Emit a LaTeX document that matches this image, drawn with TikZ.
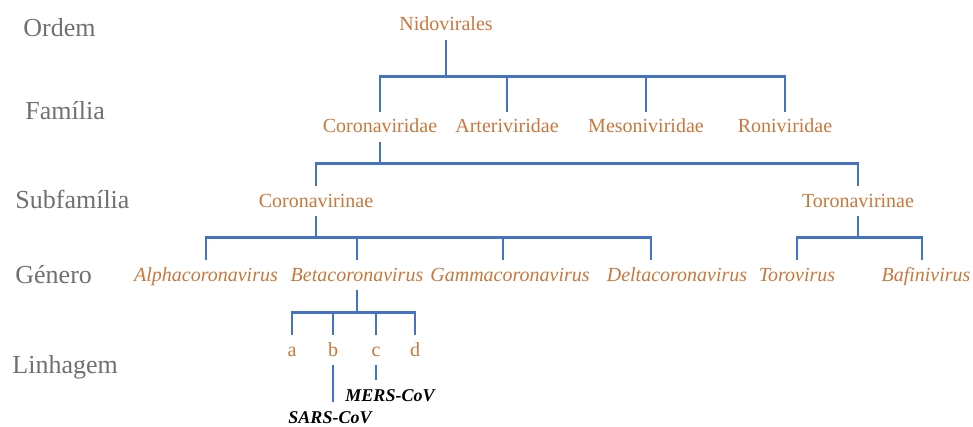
\documentclass[tikz,border=0pt]{standalone}
\usepackage{fontspec}
\setmainfont{Liberation Serif}
\definecolor{taxonorange}{RGB}{200,120,60}
\definecolor{branchblue}{RGB}{68,114,196}
\definecolor{rankgray}{RGB}{112,112,112}

\begin{document}
\begin{tikzpicture}[
		x=0.5pt, y=-0.5pt,
		every node/.style={inner xsep=0pt, inner ysep=3.5pt, text height=7pt, text depth=1pt},
		rank/.style={anchor=west, text=rankgray, text height=9pt, font=\fontsize{13}{15}\selectfont},
		taxon/.style={text=taxonorange, font=\fontsize{10}{12}\selectfont},
		genus/.style={text=taxonorange, font=\fontsize{10}{12}\selectfont\itshape},
		virus/.style={font=\fontsize{9}{11}\selectfont\bfseries\itshape},
		branch/.style={draw=branchblue, line width=1.2pt}
	]
  \useasboundingbox (0,0) rectangle (973,427);
  % ranks
  \node (ordem) [rank] at (23,29) {Ordem};
  \node (familia) [rank] at (25,112) {Família};
  \node (subfamilia) [rank] at (15,200) {Subfamília};
  \node (genero) [rank] at (15,275) {Género};
  \node (linhagem) [rank] at (12,365) {Linhagem};

  % taxa
  \node (nido) [taxon] at (446,25) {Nidovirales};
  \node (corv) [taxon] at (380,127) {Coronaviridae};
  \node (arter) [taxon] at (507,127) {Arteriviridae};
  \node (meso) [taxon] at (646,127) {Mesoniviridae};
  \node (roni) [taxon] at (785,127) {Roniviridae};
  \node (corvin) [taxon] at (316,201) {Coronavirinae};
  \node (torvin) [taxon] at (858,201) {Toronavirinae};
  \node (alpha) [genus] at (206,275) {Alphacoronavirus};
  \node (beta) [genus] at (357,275) {Betacoronavirus};
  \node (gamma) [genus] at (510,275) {Gammacoronavirus};
  \node (delta) [genus] at (677,275) {Deltacoronavirus};
  \node (toro) [genus] at (797,275) {Torovirus};
  \node (bafi) [genus] at (926,275) {Bafinivirus};
  \node (la) [taxon] at (292,350) {a};
  \node (lb) [taxon] at (333,350) {b};
  \node (lc) [taxon] at (376,350) {c};
  \node (ld) [taxon] at (415,350) {d};
  \node (sars) [virus] at (330,417) {SARS-CoV};
  \node (mers) [virus] at (390,395) {MERS-CoV};

  % branches
  \draw[branch] (nido.south) -- ++(0,36) -| (corv.north);
  \draw[branch] (nido.south) -- ++(0,36) -| (arter.north);
  \draw[branch] (nido.south) -- ++(0,36) -| (meso.north);
  \draw[branch] (nido.south) -- ++(0,36) -| (roni.north);

  \draw[branch] (corv.south) -- ++(0,21) -| (corvin.north);
  \draw[branch] (corv.south) -- ++(0,21) -| (torvin.north);

  \draw[branch] (corvin.south) -- ++(0,21) -| (alpha.north);
  \draw[branch] (corvin.south) -- ++(0,21) -| (beta.north);
  \draw[branch] (corvin.south) -- ++(0,21) -| ([xshift=-3.5pt]gamma.north);
  \draw[branch] (corvin.south) -- ++(0,21) -| ([xshift=-13pt]delta.north);

  \draw[branch] (torvin.south) -- ++(0,21) -| (toro.north);
  \draw[branch] (torvin.south) -- ++(0,21) -| ([xshift=-2pt]bafi.north);

  \draw[branch] (beta.south) -- ++(0,22) -| (la.north);
  \draw[branch] (beta.south) -- ++(0,22) -| (lb.north);
  \draw[branch] (beta.south) -- ++(0,22) -| (lc.north);
  \draw[branch] (beta.south) -- ++(0,22) -| (ld.north);

  \draw[branch] (lb.south) -- (lb.south |- sars.north);
  \draw[branch] (lc.south) -- (lc.south |- mers.north);
\end{tikzpicture}
\end{document}
